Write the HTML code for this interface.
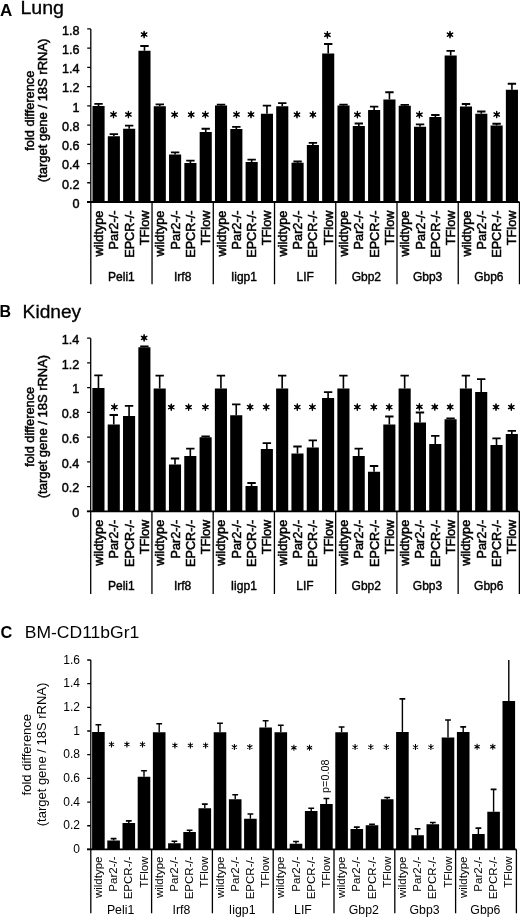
<!DOCTYPE html><html><head><meta charset="utf-8"><style>html,body{margin:0;padding:0;background:#fff;width:520px;height:918px;overflow:hidden}svg{display:block;will-change:transform}text{font-family:"Liberation Sans",sans-serif;fill:#000}</style></head><body>
<svg width="520" height="918" viewBox="0 0 520 918">
<text x="0" y="16.2" font-size="17" font-weight="bold">A</text>
<text x="20.4" y="13.8" font-size="18" stroke="#000" stroke-width="0.3" textLength="43.6" lengthAdjust="spacingAndGlyphs">Lung</text>
<text x="-0.5" y="317" font-size="16" font-weight="bold">B</text>
<text x="22.6" y="318.2" font-size="18.4" stroke="#000" stroke-width="0.3" textLength="58.6" lengthAdjust="spacingAndGlyphs">Kidney</text>
<text x="0.4" y="638.2" font-size="16.3" font-weight="bold">C</text>
<text x="24.8" y="638" font-size="16" textLength="114.4" lengthAdjust="spacingAndGlyphs">BM-CD11bGr1</text>
<text transform="translate(33.6 110.75) rotate(-90)" text-anchor="middle" font-size="12.8" font-weight="normal" stroke="#000" stroke-width="0.5" textLength="80" lengthAdjust="spacingAndGlyphs">fold difference</text><text transform="translate(47.2 110.4) rotate(-90)" text-anchor="middle" font-size="12.8" font-weight="normal" stroke="#000" stroke-width="0.5" textLength="143.7" lengthAdjust="spacingAndGlyphs">(target gene / 18S rRNA)</text>
<text transform="translate(33.6 426.85) rotate(-90)" text-anchor="middle" font-size="12.8" font-weight="normal" stroke="#000" stroke-width="0.5" textLength="80" lengthAdjust="spacingAndGlyphs">fold difference</text><text transform="translate(47.2 426.55) rotate(-90)" text-anchor="middle" font-size="12.8" font-weight="normal" stroke="#000" stroke-width="0.5" textLength="143.4" lengthAdjust="spacingAndGlyphs">(target gene / 18S rRNA)</text>
<text transform="translate(31.2 754.65) rotate(-90)" text-anchor="middle" font-size="12.8" font-weight="normal" textLength="81.5" lengthAdjust="spacingAndGlyphs">fold difference</text><text transform="translate(45.6 754.45) rotate(-90)" text-anchor="middle" font-size="12.8" font-weight="normal" textLength="143.6" lengthAdjust="spacingAndGlyphs">(target gene / 18S rRNA)</text>
<path d="M90.8 28.9V284.3" stroke="#000" stroke-width="1.3" fill="none"/>
<path d="M87 202H519.48" stroke="#000" stroke-width="1.8" fill="none"/>
<path d="M87.2 202H90.8M87.2 182.77H90.8M87.2 163.53H90.8M87.2 144.3H90.8M87.2 125.07H90.8M87.2 105.83H90.8M87.2 86.6H90.8M87.2 67.37H90.8M87.2 48.13H90.8M87.2 28.9H90.8" stroke="#000" stroke-width="1.3" fill="none"/>
<text x="79.4" y="207.8" text-anchor="end" font-size="12.6" font-weight="normal" stroke="#000" stroke-width="0.45">0</text>
<text x="79.4" y="188.57" text-anchor="end" font-size="12.6" font-weight="normal" stroke="#000" stroke-width="0.45">0.2</text>
<text x="79.4" y="169.33" text-anchor="end" font-size="12.6" font-weight="normal" stroke="#000" stroke-width="0.45">0.4</text>
<text x="79.4" y="150.1" text-anchor="end" font-size="12.6" font-weight="normal" stroke="#000" stroke-width="0.45">0.6</text>
<text x="79.4" y="130.87" text-anchor="end" font-size="12.6" font-weight="normal" stroke="#000" stroke-width="0.45">0.8</text>
<text x="79.4" y="111.63" text-anchor="end" font-size="12.6" font-weight="normal" stroke="#000" stroke-width="0.45">1</text>
<text x="79.4" y="92.4" text-anchor="end" font-size="12.6" font-weight="normal" stroke="#000" stroke-width="0.45">1.2</text>
<text x="79.4" y="73.17" text-anchor="end" font-size="12.6" font-weight="normal" stroke="#000" stroke-width="0.45">1.4</text>
<text x="79.4" y="53.93" text-anchor="end" font-size="12.6" font-weight="normal" stroke="#000" stroke-width="0.45">1.6</text>
<text x="79.4" y="34.7" text-anchor="end" font-size="12.6" font-weight="normal" stroke="#000" stroke-width="0.45">1.8</text>
<path d="M152.04 202V284.3M213.28 202V284.3M274.52 202V284.3M335.76 202V284.3M397 202V284.3M458.24 202V284.3M519.48 202V284.3" stroke="#000" stroke-width="1.3" fill="none"/>
<path d="M92.5 202H104.6V106H92.5ZM107.81 202H119.91V136.2H107.81ZM123.12 202H135.22V128.8H123.12ZM138.43 202H150.53V50.8H138.43ZM153.74 202H165.84V106.25H153.74ZM169.05 202H181.15V154.4H169.05ZM184.36 202H196.46V162.9H184.36ZM199.67 202H211.77V131.9H199.67ZM214.98 202H227.08V105.6H214.98ZM230.29 202H242.39V129H230.29ZM245.6 202H257.7V161.9H245.6ZM260.91 202H273.01V113.75H260.91ZM276.22 202H288.32V106.3H276.22ZM291.53 202H303.63V162.7H291.53ZM306.84 202H318.94V145.1H306.84ZM322.15 202H334.25V53.6H322.15ZM337.46 202H349.56V105.6H337.46ZM352.77 202H364.87V125.9H352.77ZM368.08 202H380.18V110H368.08ZM383.39 202H395.49V99.4H383.39ZM398.7 202H410.8V105.8H398.7ZM414.01 202H426.11V126.7H414.01ZM429.32 202H441.42V116.9H429.32ZM444.63 202H456.73V55.5H444.63ZM459.94 202H472.04V106.5H459.94ZM475.25 202H487.35V113.75H475.25ZM490.56 202H502.66V125.6H490.56ZM505.87 202H517.97V89.75H505.87Z" fill="#000"/>
<path d="M98.55 106V103.9M113.86 136.2V134.2M129.17 128.8V125.7M144.48 50.8V46M159.79 106.25V104.4M175.1 154.4V152.3M190.41 162.9V160.6M205.72 131.9V128.75M221.03 105.6V104.7M236.34 129V126.9M251.65 161.9V159.6M266.96 113.75V105.6M282.27 106.3V103.2M297.58 162.7V161.5M312.89 145.1V142.9M328.2 53.6V44M343.51 105.6V104.7M358.82 125.9V123.5M374.13 110V106.6M389.44 99.4V92.25M404.75 105.8V104.9M420.06 126.7V124.4M435.37 116.9V115M450.68 55.5V50.9M465.99 106.5V104M481.3 113.75V111.5M496.61 125.6V123.75M511.92 89.75V83.75" stroke="#000" stroke-width="1.6" fill="none"/>
<path d="M94.35 103.9H102.75M109.66 134.2H118.06M124.97 125.7H133.37M140.28 46H148.68M155.59 104.4H163.99M170.9 152.3H179.3M186.21 160.6H194.61M201.52 128.75H209.92M216.83 104.7H225.23M232.14 126.9H240.54M247.45 159.6H255.85M262.76 105.6H271.16M278.07 103.2H286.47M293.38 161.5H301.78M308.69 142.9H317.09M324 44H332.4M339.31 104.7H347.71M354.62 123.5H363.02M369.93 106.6H378.33M385.24 92.25H393.64M400.55 104.9H408.95M415.86 124.4H424.26M431.17 115H439.57M446.48 50.9H454.88M461.79 104H470.19M477.1 111.5H485.5M492.41 123.75H500.81M507.72 83.75H516.12" stroke="#000" stroke-width="1.8" fill="none"/>
<path d="M113.5 111.35L113.5 117.65M110.77 112.92L116.23 116.08M116.23 112.92L110.77 116.08" stroke="#000" stroke-width="1.35" stroke-linecap="round" fill="none"/><polygon points="113.5,110.9 112.72,113.16 110.38,112.7 111.95,114.5 110.38,116.3 112.72,115.84 113.5,118.1 114.28,115.84 116.62,116.3 115.05,114.5 116.62,112.7 114.28,113.16" fill="#000"/>
<path d="M128.4 111.35L128.4 117.65M125.67 112.92L131.13 116.08M131.13 112.92L125.67 116.08" stroke="#000" stroke-width="1.35" stroke-linecap="round" fill="none"/><polygon points="128.4,110.9 127.62,113.16 125.28,112.7 126.85,114.5 125.28,116.3 127.62,115.84 128.4,118.1 129.18,115.84 131.52,116.3 129.95,114.5 131.52,112.7 129.18,113.16" fill="#000"/>
<path d="M144.1 31.35L144.1 37.65M141.37 32.92L146.83 36.08M146.83 32.92L141.37 36.08" stroke="#000" stroke-width="1.35" stroke-linecap="round" fill="none"/><polygon points="144.1,30.9 143.32,33.16 140.98,32.7 142.55,34.5 140.98,36.3 143.32,35.84 144.1,38.1 144.88,35.84 147.22,36.3 145.65,34.5 147.22,32.7 144.88,33.16" fill="#000"/>
<path d="M174.6 111.5L174.6 117.8M171.87 113.08L177.33 116.23M177.33 113.08L171.87 116.23" stroke="#000" stroke-width="1.35" stroke-linecap="round" fill="none"/><polygon points="174.6,111.05 173.82,113.31 171.48,112.85 173.05,114.65 171.48,116.45 173.82,115.99 174.6,118.25 175.38,115.99 177.72,116.45 176.15,114.65 177.72,112.85 175.38,113.31" fill="#000"/>
<path d="M191.2 111.5L191.2 117.8M188.47 113.08L193.93 116.23M193.93 113.08L188.47 116.23" stroke="#000" stroke-width="1.35" stroke-linecap="round" fill="none"/><polygon points="191.2,111.05 190.42,113.31 188.08,112.85 189.65,114.65 188.08,116.45 190.42,115.99 191.2,118.25 191.97,115.99 194.32,116.45 192.75,114.65 194.32,112.85 191.97,113.31" fill="#000"/>
<path d="M205.4 111.5L205.4 117.8M202.67 113.08L208.13 116.23M208.13 113.08L202.67 116.23" stroke="#000" stroke-width="1.35" stroke-linecap="round" fill="none"/><polygon points="205.4,111.05 204.62,113.31 202.28,112.85 203.85,114.65 202.28,116.45 204.62,115.99 205.4,118.25 206.18,115.99 208.52,116.45 206.95,114.65 208.52,112.85 206.18,113.31" fill="#000"/>
<path d="M236.5 111.35L236.5 117.65M233.77 112.92L239.23 116.08M239.23 112.92L233.77 116.08" stroke="#000" stroke-width="1.35" stroke-linecap="round" fill="none"/><polygon points="236.5,110.9 235.72,113.16 233.38,112.7 234.95,114.5 233.38,116.3 235.72,115.84 236.5,118.1 237.28,115.84 239.62,116.3 238.05,114.5 239.62,112.7 237.28,113.16" fill="#000"/>
<path d="M251 111.35L251 117.65M248.27 112.92L253.73 116.08M253.73 112.92L248.27 116.08" stroke="#000" stroke-width="1.35" stroke-linecap="round" fill="none"/><polygon points="251,110.9 250.22,113.16 247.88,112.7 249.45,114.5 247.88,116.3 250.22,115.84 251,118.1 251.78,115.84 254.12,116.3 252.55,114.5 254.12,112.7 251.78,113.16" fill="#000"/>
<path d="M297 111.5L297 117.8M294.27 113.08L299.73 116.23M299.73 113.08L294.27 116.23" stroke="#000" stroke-width="1.35" stroke-linecap="round" fill="none"/><polygon points="297,111.05 296.23,113.31 293.88,112.85 295.45,114.65 293.88,116.45 296.23,115.99 297,118.25 297.77,115.99 300.12,116.45 298.55,114.65 300.12,112.85 297.77,113.31" fill="#000"/>
<path d="M312.9 111.5L312.9 117.8M310.17 113.08L315.63 116.23M315.63 113.08L310.17 116.23" stroke="#000" stroke-width="1.35" stroke-linecap="round" fill="none"/><polygon points="312.9,111.05 312.12,113.31 309.78,112.85 311.35,114.65 309.78,116.45 312.12,115.99 312.9,118.25 313.67,115.99 316.02,116.45 314.45,114.65 316.02,112.85 313.67,113.31" fill="#000"/>
<path d="M327.4 31.7L327.4 38M324.67 33.27L330.13 36.43M330.13 33.27L324.67 36.43" stroke="#000" stroke-width="1.35" stroke-linecap="round" fill="none"/><polygon points="327.4,31.25 326.62,33.51 324.28,33.05 325.85,34.85 324.28,36.65 326.62,36.19 327.4,38.45 328.17,36.19 330.52,36.65 328.95,34.85 330.52,33.05 328.17,33.51" fill="#000"/>
<path d="M357.4 111.5L357.4 117.8M354.67 113.08L360.13 116.23M360.13 113.08L354.67 116.23" stroke="#000" stroke-width="1.35" stroke-linecap="round" fill="none"/><polygon points="357.4,111.05 356.62,113.31 354.28,112.85 355.85,114.65 354.28,116.45 356.62,115.99 357.4,118.25 358.17,115.99 360.52,116.45 358.95,114.65 360.52,112.85 358.17,113.31" fill="#000"/>
<path d="M419.4 111.5L419.4 117.8M416.67 113.08L422.13 116.23M422.13 113.08L416.67 116.23" stroke="#000" stroke-width="1.35" stroke-linecap="round" fill="none"/><polygon points="419.4,111.05 418.62,113.31 416.28,112.85 417.85,114.65 416.28,116.45 418.62,115.99 419.4,118.25 420.17,115.99 422.52,116.45 420.95,114.65 422.52,112.85 420.17,113.31" fill="#000"/>
<path d="M450 31.5L450 37.8M447.27 33.07L452.73 36.23M452.73 33.07L447.27 36.23" stroke="#000" stroke-width="1.35" stroke-linecap="round" fill="none"/><polygon points="450,31.05 449.23,33.31 446.88,32.85 448.45,34.65 446.88,36.45 449.23,35.99 450,38.25 450.77,35.99 453.12,36.45 451.55,34.65 453.12,32.85 450.77,33.31" fill="#000"/>
<path d="M496.7 111.35L496.7 117.65M493.97 112.92L499.43 116.08M499.43 112.92L493.97 116.08" stroke="#000" stroke-width="1.35" stroke-linecap="round" fill="none"/><polygon points="496.7,110.9 495.93,113.16 493.58,112.7 495.15,114.5 493.58,116.3 495.93,115.84 496.7,118.1 497.47,115.84 499.82,116.3 498.25,114.5 499.82,112.7 497.47,113.16" fill="#000"/>
<text transform="translate(103.05 210.6) rotate(-90)" text-anchor="end" font-size="12.7" font-weight="normal" stroke="#000" stroke-width="0.5">wildtype</text>
<text transform="translate(118.36 210.6) rotate(-90)" text-anchor="end" font-size="12.7" font-weight="normal" stroke="#000" stroke-width="0.5">Par2-/-</text>
<text transform="translate(133.67 210.6) rotate(-90)" text-anchor="end" font-size="12.7" font-weight="normal" stroke="#000" stroke-width="0.5">EPCR-/-</text>
<text transform="translate(148.98 210.6) rotate(-90)" text-anchor="end" font-size="12.7" font-weight="normal" stroke="#000" stroke-width="0.5">TFlow</text>
<text transform="translate(164.29 210.6) rotate(-90)" text-anchor="end" font-size="12.7" font-weight="normal" stroke="#000" stroke-width="0.5">wildtype</text>
<text transform="translate(179.6 210.6) rotate(-90)" text-anchor="end" font-size="12.7" font-weight="normal" stroke="#000" stroke-width="0.5">Par2-/-</text>
<text transform="translate(194.91 210.6) rotate(-90)" text-anchor="end" font-size="12.7" font-weight="normal" stroke="#000" stroke-width="0.5">EPCR-/-</text>
<text transform="translate(210.22 210.6) rotate(-90)" text-anchor="end" font-size="12.7" font-weight="normal" stroke="#000" stroke-width="0.5">TFlow</text>
<text transform="translate(225.53 210.6) rotate(-90)" text-anchor="end" font-size="12.7" font-weight="normal" stroke="#000" stroke-width="0.5">wildtype</text>
<text transform="translate(240.84 210.6) rotate(-90)" text-anchor="end" font-size="12.7" font-weight="normal" stroke="#000" stroke-width="0.5">Par2-/-</text>
<text transform="translate(256.16 210.6) rotate(-90)" text-anchor="end" font-size="12.7" font-weight="normal" stroke="#000" stroke-width="0.5">EPCR-/-</text>
<text transform="translate(271.47 210.6) rotate(-90)" text-anchor="end" font-size="12.7" font-weight="normal" stroke="#000" stroke-width="0.5">TFlow</text>
<text transform="translate(286.78 210.6) rotate(-90)" text-anchor="end" font-size="12.7" font-weight="normal" stroke="#000" stroke-width="0.5">wildtype</text>
<text transform="translate(302.09 210.6) rotate(-90)" text-anchor="end" font-size="12.7" font-weight="normal" stroke="#000" stroke-width="0.5">Par2-/-</text>
<text transform="translate(317.4 210.6) rotate(-90)" text-anchor="end" font-size="12.7" font-weight="normal" stroke="#000" stroke-width="0.5">EPCR-/-</text>
<text transform="translate(332.71 210.6) rotate(-90)" text-anchor="end" font-size="12.7" font-weight="normal" stroke="#000" stroke-width="0.5">TFlow</text>
<text transform="translate(348.02 210.6) rotate(-90)" text-anchor="end" font-size="12.7" font-weight="normal" stroke="#000" stroke-width="0.5">wildtype</text>
<text transform="translate(363.33 210.6) rotate(-90)" text-anchor="end" font-size="12.7" font-weight="normal" stroke="#000" stroke-width="0.5">Par2-/-</text>
<text transform="translate(378.64 210.6) rotate(-90)" text-anchor="end" font-size="12.7" font-weight="normal" stroke="#000" stroke-width="0.5">EPCR-/-</text>
<text transform="translate(393.95 210.6) rotate(-90)" text-anchor="end" font-size="12.7" font-weight="normal" stroke="#000" stroke-width="0.5">TFlow</text>
<text transform="translate(409.26 210.6) rotate(-90)" text-anchor="end" font-size="12.7" font-weight="normal" stroke="#000" stroke-width="0.5">wildtype</text>
<text transform="translate(424.57 210.6) rotate(-90)" text-anchor="end" font-size="12.7" font-weight="normal" stroke="#000" stroke-width="0.5">Par2-/-</text>
<text transform="translate(439.88 210.6) rotate(-90)" text-anchor="end" font-size="12.7" font-weight="normal" stroke="#000" stroke-width="0.5">EPCR-/-</text>
<text transform="translate(455.19 210.6) rotate(-90)" text-anchor="end" font-size="12.7" font-weight="normal" stroke="#000" stroke-width="0.5">TFlow</text>
<text transform="translate(470.5 210.6) rotate(-90)" text-anchor="end" font-size="12.7" font-weight="normal" stroke="#000" stroke-width="0.5">wildtype</text>
<text transform="translate(485.81 210.6) rotate(-90)" text-anchor="end" font-size="12.7" font-weight="normal" stroke="#000" stroke-width="0.5">Par2-/-</text>
<text transform="translate(501.12 210.6) rotate(-90)" text-anchor="end" font-size="12.7" font-weight="normal" stroke="#000" stroke-width="0.5">EPCR-/-</text>
<text transform="translate(516.43 210.6) rotate(-90)" text-anchor="end" font-size="12.7" font-weight="normal" stroke="#000" stroke-width="0.5">TFlow</text>
<text x="121.42" y="281.2" text-anchor="middle" font-size="12" font-weight="normal" stroke="#000" stroke-width="0.4">Peli1</text>
<text x="182.66" y="281.2" text-anchor="middle" font-size="12" font-weight="normal" stroke="#000" stroke-width="0.4">Irf8</text>
<text x="243.9" y="281.2" text-anchor="middle" font-size="12" font-weight="normal" stroke="#000" stroke-width="0.4">Iigp1</text>
<text x="305.14" y="281.2" text-anchor="middle" font-size="12" font-weight="normal" stroke="#000" stroke-width="0.4">LIF</text>
<text x="366.38" y="281.2" text-anchor="middle" font-size="12" font-weight="normal" stroke="#000" stroke-width="0.4">Gbp2</text>
<text x="427.62" y="281.2" text-anchor="middle" font-size="12" font-weight="normal" stroke="#000" stroke-width="0.4">Gbp3</text>
<text x="488.86" y="281.2" text-anchor="middle" font-size="12" font-weight="normal" stroke="#000" stroke-width="0.4">Gbp6</text>
<path d="M90.7 338.2V593.9" stroke="#000" stroke-width="1.3" fill="none"/>
<path d="M86.9 511.3H519.38" stroke="#000" stroke-width="1.8" fill="none"/>
<path d="M87.1 511.3H90.7M87.1 486.57H90.7M87.1 461.84H90.7M87.1 437.11H90.7M87.1 412.39H90.7M87.1 387.66H90.7M87.1 362.93H90.7M87.1 338.2H90.7" stroke="#000" stroke-width="1.3" fill="none"/>
<text x="79.2" y="517.1" text-anchor="end" font-size="12.6" font-weight="normal" stroke="#000" stroke-width="0.45">0</text>
<text x="79.2" y="492.37" text-anchor="end" font-size="12.6" font-weight="normal" stroke="#000" stroke-width="0.45">0.2</text>
<text x="79.2" y="467.64" text-anchor="end" font-size="12.6" font-weight="normal" stroke="#000" stroke-width="0.45">0.4</text>
<text x="79.2" y="442.91" text-anchor="end" font-size="12.6" font-weight="normal" stroke="#000" stroke-width="0.45">0.6</text>
<text x="79.2" y="418.19" text-anchor="end" font-size="12.6" font-weight="normal" stroke="#000" stroke-width="0.45">0.8</text>
<text x="79.2" y="393.46" text-anchor="end" font-size="12.6" font-weight="normal" stroke="#000" stroke-width="0.45">1</text>
<text x="79.2" y="368.73" text-anchor="end" font-size="12.6" font-weight="normal" stroke="#000" stroke-width="0.45">1.2</text>
<text x="79.2" y="344" text-anchor="end" font-size="12.6" font-weight="normal" stroke="#000" stroke-width="0.45">1.4</text>
<path d="M151.94 511.3V593.9M213.18 511.3V593.9M274.42 511.3V593.9M335.66 511.3V593.9M396.9 511.3V593.9M458.14 511.3V593.9M519.38 511.3V593.9" stroke="#000" stroke-width="1.3" fill="none"/>
<path d="M92.4 511.3H104.5V388H92.4ZM107.71 511.3H119.81V424.6H107.71ZM123.02 511.3H135.12V416.1H123.02ZM138.33 511.3H150.43V347.2H138.33ZM153.64 511.3H165.74V388.4H153.64ZM168.95 511.3H181.05V464.5H168.95ZM184.26 511.3H196.36V456H184.26ZM199.57 511.3H211.67V437.3H199.57ZM214.88 511.3H226.98V388.4H214.88ZM230.19 511.3H242.29V415.3H230.19ZM245.5 511.3H257.6V486.1H245.5ZM260.81 511.3H272.91V448.9H260.81ZM276.12 511.3H288.22V388.4H276.12ZM291.43 511.3H303.53V453.6H291.43ZM306.74 511.3H318.84V447.6H306.74ZM322.05 511.3H334.15V398H322.05ZM337.36 511.3H349.46V388.4H337.36ZM352.67 511.3H364.77V456H352.67ZM367.98 511.3H380.08V471.7H367.98ZM383.29 511.3H395.39V424.5H383.29ZM398.6 511.3H410.7V388.4H398.6ZM413.91 511.3H426.01V422.4H413.91ZM429.22 511.3H441.32V443.9H429.22ZM444.53 511.3H456.63V419.3H444.53ZM459.84 511.3H471.94V388.4H459.84ZM475.15 511.3H487.25V392H475.15ZM490.46 511.3H502.56V445.1H490.46ZM505.77 511.3H517.87V434H505.77Z" fill="#000"/>
<path d="M98.45 388V375.3M113.76 424.6V415M129.07 416.1V405.8M144.38 347.2V346.3M159.69 388.4V375.7M175 464.5V458.5M190.31 456V448.6M205.62 437.3V436.4M220.93 388.4V375.7M236.24 415.3V404.3M251.55 486.1V483M266.86 448.9V443.2M282.17 388.4V375.7M297.48 453.6V446.5M312.79 447.6V440.4M328.1 398V392.2M343.41 388.4V375.7M358.72 456V448.6M374.03 471.7V466M389.34 424.5V416.5M404.65 388.4V375.7M419.96 422.4V412.5M435.27 443.9V435.9M450.58 419.3V418.4M465.89 388.4V375.7M481.2 392V379.2M496.51 445.1V438.3M511.82 434V430.9" stroke="#000" stroke-width="1.6" fill="none"/>
<path d="M94.25 375.3H102.65M109.56 415H117.96M124.87 405.8H133.27M140.18 346.3H148.58M155.49 375.7H163.89M170.8 458.5H179.2M186.11 448.6H194.51M201.42 436.4H209.82M216.73 375.7H225.13M232.04 404.3H240.44M247.35 483H255.75M262.66 443.2H271.06M277.97 375.7H286.37M293.28 446.5H301.68M308.59 440.4H316.99M323.9 392.2H332.3M339.21 375.7H347.61M354.52 448.6H362.92M369.83 466H378.23M385.14 416.5H393.54M400.45 375.7H408.85M415.76 412.5H424.16M431.07 435.9H439.47M446.38 418.4H454.78M461.69 375.7H470.09M477 379.2H485.4M492.31 438.3H500.71M507.62 430.9H516.02" stroke="#000" stroke-width="1.8" fill="none"/>
<path d="M114.4 403.95L114.4 410.25M111.67 405.53L117.13 408.68M117.13 405.53L111.67 408.68" stroke="#000" stroke-width="1.35" stroke-linecap="round" fill="none"/><polygon points="114.4,403.5 113.62,405.76 111.28,405.3 112.85,407.1 111.28,408.9 113.62,408.44 114.4,410.7 115.18,408.44 117.52,408.9 115.95,407.1 117.52,405.3 115.18,405.76" fill="#000"/>
<path d="M144.1 334.75L144.1 341.05M141.37 336.32L146.83 339.47M146.83 336.32L141.37 339.47" stroke="#000" stroke-width="1.35" stroke-linecap="round" fill="none"/><polygon points="144.1,334.3 143.32,336.56 140.98,336.1 142.55,337.9 140.98,339.7 143.32,339.24 144.1,341.5 144.88,339.24 147.22,339.7 145.65,337.9 147.22,336.1 144.88,336.56" fill="#000"/>
<path d="M171.25 404.05L171.25 410.35M168.52 405.62L173.98 408.77M173.98 405.62L168.52 408.77" stroke="#000" stroke-width="1.35" stroke-linecap="round" fill="none"/><polygon points="171.25,403.6 170.47,405.86 168.13,405.4 169.7,407.2 168.13,409 170.47,408.54 171.25,410.8 172.03,408.54 174.37,409 172.8,407.2 174.37,405.4 172.03,405.86" fill="#000"/>
<path d="M188.6 404.05L188.6 410.35M185.87 405.62L191.33 408.77M191.33 405.62L185.87 408.77" stroke="#000" stroke-width="1.35" stroke-linecap="round" fill="none"/><polygon points="188.6,403.6 187.82,405.86 185.48,405.4 187.05,407.2 185.48,409 187.82,408.54 188.6,410.8 189.38,408.54 191.72,409 190.15,407.2 191.72,405.4 189.38,405.86" fill="#000"/>
<path d="M205.4 404.05L205.4 410.35M202.67 405.62L208.13 408.77M208.13 405.62L202.67 408.77" stroke="#000" stroke-width="1.35" stroke-linecap="round" fill="none"/><polygon points="205.4,403.6 204.62,405.86 202.28,405.4 203.85,407.2 202.28,409 204.62,408.54 205.4,410.8 206.18,408.54 208.52,409 206.95,407.2 208.52,405.4 206.18,405.86" fill="#000"/>
<path d="M250.1 403.95L250.1 410.25M247.37 405.53L252.83 408.68M252.83 405.53L247.37 408.68" stroke="#000" stroke-width="1.35" stroke-linecap="round" fill="none"/><polygon points="250.1,403.5 249.32,405.76 246.98,405.3 248.55,407.1 246.98,408.9 249.32,408.44 250.1,410.7 250.88,408.44 253.22,408.9 251.65,407.1 253.22,405.3 250.88,405.76" fill="#000"/>
<path d="M266.2 403.95L266.2 410.25M263.47 405.53L268.93 408.68M268.93 405.53L263.47 408.68" stroke="#000" stroke-width="1.35" stroke-linecap="round" fill="none"/><polygon points="266.2,403.5 265.43,405.76 263.08,405.3 264.65,407.1 263.08,408.9 265.43,408.44 266.2,410.7 266.97,408.44 269.32,408.9 267.75,407.1 269.32,405.3 266.97,405.76" fill="#000"/>
<path d="M297.3 403.95L297.3 410.25M294.57 405.53L300.03 408.68M300.03 405.53L294.57 408.68" stroke="#000" stroke-width="1.35" stroke-linecap="round" fill="none"/><polygon points="297.3,403.5 296.53,405.76 294.18,405.3 295.75,407.1 294.18,408.9 296.53,408.44 297.3,410.7 298.07,408.44 300.42,408.9 298.85,407.1 300.42,405.3 298.07,405.76" fill="#000"/>
<path d="M312.4 403.95L312.4 410.25M309.67 405.53L315.13 408.68M315.13 405.53L309.67 408.68" stroke="#000" stroke-width="1.35" stroke-linecap="round" fill="none"/><polygon points="312.4,403.5 311.62,405.76 309.28,405.3 310.85,407.1 309.28,408.9 311.62,408.44 312.4,410.7 313.17,408.44 315.52,408.9 313.95,407.1 315.52,405.3 313.17,405.76" fill="#000"/>
<path d="M357.3 403.95L357.3 410.25M354.57 405.53L360.03 408.68M360.03 405.53L354.57 408.68" stroke="#000" stroke-width="1.35" stroke-linecap="round" fill="none"/><polygon points="357.3,403.5 356.53,405.76 354.18,405.3 355.75,407.1 354.18,408.9 356.53,408.44 357.3,410.7 358.07,408.44 360.42,408.9 358.85,407.1 360.42,405.3 358.07,405.76" fill="#000"/>
<path d="M373.8 403.95L373.8 410.25M371.07 405.53L376.53 408.68M376.53 405.53L371.07 408.68" stroke="#000" stroke-width="1.35" stroke-linecap="round" fill="none"/><polygon points="373.8,403.5 373.03,405.76 370.68,405.3 372.25,407.1 370.68,408.9 373.03,408.44 373.8,410.7 374.57,408.44 376.92,408.9 375.35,407.1 376.92,405.3 374.57,405.76" fill="#000"/>
<path d="M389.2 403.95L389.2 410.25M386.47 405.53L391.93 408.68M391.93 405.53L386.47 408.68" stroke="#000" stroke-width="1.35" stroke-linecap="round" fill="none"/><polygon points="389.2,403.5 388.43,405.76 386.08,405.3 387.65,407.1 386.08,408.9 388.43,408.44 389.2,410.7 389.97,408.44 392.32,408.9 390.75,407.1 392.32,405.3 389.97,405.76" fill="#000"/>
<path d="M419.4 403.65L419.4 409.95M416.67 405.23L422.13 408.38M422.13 405.23L416.67 408.38" stroke="#000" stroke-width="1.35" stroke-linecap="round" fill="none"/><polygon points="419.4,403.2 418.62,405.46 416.28,405 417.85,406.8 416.28,408.6 418.62,408.14 419.4,410.4 420.17,408.14 422.52,408.6 420.95,406.8 422.52,405 420.17,405.46" fill="#000"/>
<path d="M434.8 403.85L434.8 410.15M432.07 405.43L437.53 408.57M437.53 405.43L432.07 408.57" stroke="#000" stroke-width="1.35" stroke-linecap="round" fill="none"/><polygon points="434.8,403.4 434.03,405.66 431.68,405.2 433.25,407 431.68,408.8 434.03,408.34 434.8,410.6 435.57,408.34 437.92,408.8 436.35,407 437.92,405.2 435.57,405.66" fill="#000"/>
<path d="M450.2 403.85L450.2 410.15M447.47 405.43L452.93 408.57M452.93 405.43L447.47 408.57" stroke="#000" stroke-width="1.35" stroke-linecap="round" fill="none"/><polygon points="450.2,403.4 449.43,405.66 447.08,405.2 448.65,407 447.08,408.8 449.43,408.34 450.2,410.6 450.97,408.34 453.32,408.8 451.75,407 453.32,405.2 450.97,405.66" fill="#000"/>
<path d="M496 403.95L496 410.25M493.27 405.53L498.73 408.68M498.73 405.53L493.27 408.68" stroke="#000" stroke-width="1.35" stroke-linecap="round" fill="none"/><polygon points="496,403.5 495.23,405.76 492.88,405.3 494.45,407.1 492.88,408.9 495.23,408.44 496,410.7 496.77,408.44 499.12,408.9 497.55,407.1 499.12,405.3 496.77,405.76" fill="#000"/>
<path d="M511.3 403.95L511.3 410.25M508.57 405.53L514.03 408.68M514.03 405.53L508.57 408.68" stroke="#000" stroke-width="1.35" stroke-linecap="round" fill="none"/><polygon points="511.3,403.5 510.53,405.76 508.18,405.3 509.75,407.1 508.18,408.9 510.53,408.44 511.3,410.7 512.08,408.44 514.42,408.9 512.85,407.1 514.42,405.3 512.08,405.76" fill="#000"/>
<text transform="translate(102.95 519.8) rotate(-90)" text-anchor="end" font-size="12.7" font-weight="normal" stroke="#000" stroke-width="0.5">wildtype</text>
<text transform="translate(118.27 519.8) rotate(-90)" text-anchor="end" font-size="12.7" font-weight="normal" stroke="#000" stroke-width="0.5">Par2-/-</text>
<text transform="translate(133.57 519.8) rotate(-90)" text-anchor="end" font-size="12.7" font-weight="normal" stroke="#000" stroke-width="0.5">EPCR-/-</text>
<text transform="translate(148.88 519.8) rotate(-90)" text-anchor="end" font-size="12.7" font-weight="normal" stroke="#000" stroke-width="0.5">TFlow</text>
<text transform="translate(164.19 519.8) rotate(-90)" text-anchor="end" font-size="12.7" font-weight="normal" stroke="#000" stroke-width="0.5">wildtype</text>
<text transform="translate(179.5 519.8) rotate(-90)" text-anchor="end" font-size="12.7" font-weight="normal" stroke="#000" stroke-width="0.5">Par2-/-</text>
<text transform="translate(194.81 519.8) rotate(-90)" text-anchor="end" font-size="12.7" font-weight="normal" stroke="#000" stroke-width="0.5">EPCR-/-</text>
<text transform="translate(210.12 519.8) rotate(-90)" text-anchor="end" font-size="12.7" font-weight="normal" stroke="#000" stroke-width="0.5">TFlow</text>
<text transform="translate(225.43 519.8) rotate(-90)" text-anchor="end" font-size="12.7" font-weight="normal" stroke="#000" stroke-width="0.5">wildtype</text>
<text transform="translate(240.74 519.8) rotate(-90)" text-anchor="end" font-size="12.7" font-weight="normal" stroke="#000" stroke-width="0.5">Par2-/-</text>
<text transform="translate(256.06 519.8) rotate(-90)" text-anchor="end" font-size="12.7" font-weight="normal" stroke="#000" stroke-width="0.5">EPCR-/-</text>
<text transform="translate(271.37 519.8) rotate(-90)" text-anchor="end" font-size="12.7" font-weight="normal" stroke="#000" stroke-width="0.5">TFlow</text>
<text transform="translate(286.68 519.8) rotate(-90)" text-anchor="end" font-size="12.7" font-weight="normal" stroke="#000" stroke-width="0.5">wildtype</text>
<text transform="translate(301.99 519.8) rotate(-90)" text-anchor="end" font-size="12.7" font-weight="normal" stroke="#000" stroke-width="0.5">Par2-/-</text>
<text transform="translate(317.3 519.8) rotate(-90)" text-anchor="end" font-size="12.7" font-weight="normal" stroke="#000" stroke-width="0.5">EPCR-/-</text>
<text transform="translate(332.61 519.8) rotate(-90)" text-anchor="end" font-size="12.7" font-weight="normal" stroke="#000" stroke-width="0.5">TFlow</text>
<text transform="translate(347.92 519.8) rotate(-90)" text-anchor="end" font-size="12.7" font-weight="normal" stroke="#000" stroke-width="0.5">wildtype</text>
<text transform="translate(363.23 519.8) rotate(-90)" text-anchor="end" font-size="12.7" font-weight="normal" stroke="#000" stroke-width="0.5">Par2-/-</text>
<text transform="translate(378.54 519.8) rotate(-90)" text-anchor="end" font-size="12.7" font-weight="normal" stroke="#000" stroke-width="0.5">EPCR-/-</text>
<text transform="translate(393.85 519.8) rotate(-90)" text-anchor="end" font-size="12.7" font-weight="normal" stroke="#000" stroke-width="0.5">TFlow</text>
<text transform="translate(409.16 519.8) rotate(-90)" text-anchor="end" font-size="12.7" font-weight="normal" stroke="#000" stroke-width="0.5">wildtype</text>
<text transform="translate(424.47 519.8) rotate(-90)" text-anchor="end" font-size="12.7" font-weight="normal" stroke="#000" stroke-width="0.5">Par2-/-</text>
<text transform="translate(439.78 519.8) rotate(-90)" text-anchor="end" font-size="12.7" font-weight="normal" stroke="#000" stroke-width="0.5">EPCR-/-</text>
<text transform="translate(455.09 519.8) rotate(-90)" text-anchor="end" font-size="12.7" font-weight="normal" stroke="#000" stroke-width="0.5">TFlow</text>
<text transform="translate(470.4 519.8) rotate(-90)" text-anchor="end" font-size="12.7" font-weight="normal" stroke="#000" stroke-width="0.5">wildtype</text>
<text transform="translate(485.71 519.8) rotate(-90)" text-anchor="end" font-size="12.7" font-weight="normal" stroke="#000" stroke-width="0.5">Par2-/-</text>
<text transform="translate(501.02 519.8) rotate(-90)" text-anchor="end" font-size="12.7" font-weight="normal" stroke="#000" stroke-width="0.5">EPCR-/-</text>
<text transform="translate(516.33 519.8) rotate(-90)" text-anchor="end" font-size="12.7" font-weight="normal" stroke="#000" stroke-width="0.5">TFlow</text>
<text x="121.32" y="590.4" text-anchor="middle" font-size="12" font-weight="normal" stroke="#000" stroke-width="0.4">Peli1</text>
<text x="182.56" y="590.4" text-anchor="middle" font-size="12" font-weight="normal" stroke="#000" stroke-width="0.4">Irf8</text>
<text x="243.8" y="590.4" text-anchor="middle" font-size="12" font-weight="normal" stroke="#000" stroke-width="0.4">Iigp1</text>
<text x="305.04" y="590.4" text-anchor="middle" font-size="12" font-weight="normal" stroke="#000" stroke-width="0.4">LIF</text>
<text x="366.28" y="590.4" text-anchor="middle" font-size="12" font-weight="normal" stroke="#000" stroke-width="0.4">Gbp2</text>
<text x="427.52" y="590.4" text-anchor="middle" font-size="12" font-weight="normal" stroke="#000" stroke-width="0.4">Gbp3</text>
<text x="488.76" y="590.4" text-anchor="middle" font-size="12" font-weight="normal" stroke="#000" stroke-width="0.4">Gbp6</text>
<path d="M90.8 660V913.3" stroke="#000" stroke-width="1.3" fill="none"/>
<path d="M87 849.4H516.4" stroke="#000" stroke-width="1.8" fill="none"/>
<path d="M87.2 849.4H90.8M87.2 825.73H90.8M87.2 802.05H90.8M87.2 778.38H90.8M87.2 754.7H90.8M87.2 731.02H90.8M87.2 707.35H90.8M87.2 683.67H90.8M87.2 660H90.8" stroke="#000" stroke-width="1.3" fill="none"/>
<text x="80" y="852.9" text-anchor="end" font-size="12" font-weight="normal">0</text>
<text x="80" y="829.23" text-anchor="end" font-size="12" font-weight="normal">0.2</text>
<text x="80" y="805.55" text-anchor="end" font-size="12" font-weight="normal">0.4</text>
<text x="80" y="781.88" text-anchor="end" font-size="12" font-weight="normal">0.6</text>
<text x="80" y="758.2" text-anchor="end" font-size="12" font-weight="normal">0.8</text>
<text x="80" y="734.52" text-anchor="end" font-size="12" font-weight="normal">1</text>
<text x="80" y="710.85" text-anchor="end" font-size="12" font-weight="normal">1.2</text>
<text x="80" y="687.17" text-anchor="end" font-size="12" font-weight="normal">1.4</text>
<text x="80" y="663.5" text-anchor="end" font-size="12" font-weight="normal">1.6</text>
<path d="M151.6 849.4V913.3M212.4 849.4V913.3M273.2 849.4V913.3M334 849.4V913.3M394.8 849.4V913.3M455.6 849.4V913.3M516.4 849.4V913.3" stroke="#000" stroke-width="1.3" fill="none"/>
<path d="M92.1 849.4H104.7V731.9H92.1ZM107.3 849.4H119.9V840.5H107.3ZM122.5 849.4H135.1V822.9H122.5ZM137.7 849.4H150.3V776.8H137.7ZM152.9 849.4H165.5V732.2H152.9ZM168.1 849.4H180.7V843.3H168.1ZM183.3 849.4H195.9V832H183.3ZM198.5 849.4H211.1V808.2H198.5ZM213.7 849.4H226.3V732.2H213.7ZM228.9 849.4H241.5V799.2H228.9ZM244.1 849.4H256.7V818.8H244.1ZM259.3 849.4H271.9V727.5H259.3ZM274.5 849.4H287.1V732.2H274.5ZM289.7 849.4H302.3V843.8H289.7ZM304.9 849.4H317.5V811.1H304.9ZM320.1 849.4H332.7V804.1H320.1ZM335.3 849.4H347.9V732.2H335.3ZM350.5 849.4H363.1V829.1H350.5ZM365.7 849.4H378.3V825.3H365.7ZM380.9 849.4H393.5V799.2H380.9ZM396.1 849.4H408.7V732H396.1ZM411.3 849.4H423.9V835.2H411.3ZM426.5 849.4H439.1V824.2H426.5ZM441.7 849.4H454.3V737.6H441.7ZM456.9 849.4H469.5V732H456.9ZM472.1 849.4H484.7V833.9H472.1ZM487.3 849.4H499.9V811.8H487.3ZM502.5 849.4H515.1V701H502.5Z" fill="#000"/>
<path d="M98.4 731.9V724.8M113.6 840.5V838.6M128.8 822.9V820.9M144 776.8V770.8M159.2 732.2V723.7M174.4 843.3V841.3M189.6 832V830.2M204.8 808.2V804.1M220 732.2V723.2M235.2 799.2V794.8M250.4 818.8V814M265.6 727.5V720.8M280.8 732.2V725.3M296 843.8V841.5M311.2 811.1V808.2M326.4 804.1V798.5M341.6 732.2V727M356.8 829.1V827.1M372 825.3V824.2M387.2 799.2V797.5M402.4 732V698.9M417.6 835.2V828.7M432.8 824.2V822.5M448 737.6V720M463.2 732V726.9M478.4 833.9V828.1M493.6 811.8V789.4M508.8 701V660" stroke="#000" stroke-width="1.4" fill="none"/>
<path d="M95.5 724.8H101.3M110.7 838.6H116.5M125.9 820.9H131.7M141.1 770.8H146.9M156.3 723.7H162.1M171.5 841.3H177.3M186.7 830.2H192.5M201.9 804.1H207.7M217.1 723.2H222.9M232.3 794.8H238.1M247.5 814H253.3M262.7 720.8H268.5M277.9 725.3H283.7M293.1 841.5H298.9M308.3 808.2H314.1M323.5 798.5H329.3M338.7 727H344.5M353.9 827.1H359.7M369.1 824.2H374.9M384.3 797.5H390.1M399.5 698.9H405.3M414.7 828.7H420.5M429.9 822.5H435.7M445.1 720H450.9M460.3 726.9H466.1M475.5 828.1H481.3M490.7 789.4H496.5" stroke="#000" stroke-width="1.6" fill="none"/>
<path d="M111.5 741.4L111.5 747.4M108.9 742.9L114.1 745.9M114.1 742.9L108.9 745.9" stroke="#000" stroke-width="1.05" fill="none"/><circle cx="111.5" cy="744.4" r="0.9"/>
<path d="M126.9 741.4L126.9 747.4M124.3 742.9L129.5 745.9M129.5 742.9L124.3 745.9" stroke="#000" stroke-width="1.05" fill="none"/><circle cx="126.9" cy="744.4" r="0.9"/>
<path d="M142.5 741.4L142.5 747.4M139.9 742.9L145.1 745.9M145.1 742.9L139.9 745.9" stroke="#000" stroke-width="1.05" fill="none"/><circle cx="142.5" cy="744.4" r="0.9"/>
<path d="M174.9 742.4L174.9 748.4M172.3 743.9L177.5 746.9M177.5 743.9L172.3 746.9" stroke="#000" stroke-width="1.05" fill="none"/><circle cx="174.9" cy="745.4" r="0.9"/>
<path d="M190.4 742.4L190.4 748.4M187.8 743.9L193 746.9M193 743.9L187.8 746.9" stroke="#000" stroke-width="1.05" fill="none"/><circle cx="190.4" cy="745.4" r="0.9"/>
<path d="M205.6 742.4L205.6 748.4M203 743.9L208.2 746.9M208.2 743.9L203 746.9" stroke="#000" stroke-width="1.05" fill="none"/><circle cx="205.6" cy="745.4" r="0.9"/>
<path d="M234.4 744L234.4 750M231.8 745.5L237 748.5M237 745.5L231.8 748.5" stroke="#000" stroke-width="1.05" fill="none"/><circle cx="234.4" cy="747" r="0.9"/>
<path d="M249.8 744L249.8 750M247.2 745.5L252.4 748.5M252.4 745.5L247.2 748.5" stroke="#000" stroke-width="1.05" fill="none"/><circle cx="249.8" cy="747" r="0.9"/>
<path d="M293.9 744.8L293.9 750.8M291.3 746.3L296.5 749.3M296.5 746.3L291.3 749.3" stroke="#000" stroke-width="1.05" fill="none"/><circle cx="293.9" cy="747.8" r="0.9"/>
<path d="M309.5 744.8L309.5 750.8M306.9 746.3L312.1 749.3M312.1 746.3L306.9 749.3" stroke="#000" stroke-width="1.05" fill="none"/><circle cx="309.5" cy="747.8" r="0.9"/>
<path d="M355.1 744.1L355.1 750.1M352.5 745.6L357.7 748.6M357.7 745.6L352.5 748.6" stroke="#000" stroke-width="1.05" fill="none"/><circle cx="355.1" cy="747.1" r="0.9"/>
<path d="M370.8 744.1L370.8 750.1M368.2 745.6L373.4 748.6M373.4 745.6L368.2 748.6" stroke="#000" stroke-width="1.05" fill="none"/><circle cx="370.8" cy="747.1" r="0.9"/>
<path d="M386.3 744.1L386.3 750.1M383.7 745.6L388.9 748.6M388.9 745.6L383.7 748.6" stroke="#000" stroke-width="1.05" fill="none"/><circle cx="386.3" cy="747.1" r="0.9"/>
<path d="M415.5 744.1L415.5 750.1M412.9 745.6L418.1 748.6M418.1 745.6L412.9 748.6" stroke="#000" stroke-width="1.05" fill="none"/><circle cx="415.5" cy="747.1" r="0.9"/>
<path d="M430.9 744.1L430.9 750.1M428.3 745.6L433.5 748.6M433.5 745.6L428.3 748.6" stroke="#000" stroke-width="1.05" fill="none"/><circle cx="430.9" cy="747.1" r="0.9"/>
<path d="M477.1 743.7L477.1 749.7M474.5 745.2L479.7 748.2M479.7 745.2L474.5 748.2" stroke="#000" stroke-width="1.05" fill="none"/><circle cx="477.1" cy="746.7" r="0.9"/>
<path d="M492.8 743.7L492.8 749.7M490.2 745.2L495.4 748.2M495.4 745.2L490.2 748.2" stroke="#000" stroke-width="1.05" fill="none"/><circle cx="492.8" cy="746.7" r="0.9"/>
<text transform="translate(101.9 856.5) rotate(-90)" text-anchor="end" font-size="11.5" font-weight="normal">wildtype</text>
<text transform="translate(117.1 856.5) rotate(-90)" text-anchor="end" font-size="11.5" font-weight="normal">Par2-/-</text>
<text transform="translate(132.3 856.5) rotate(-90)" text-anchor="end" font-size="11.5" font-weight="normal">EPCR-/-</text>
<text transform="translate(147.5 856.5) rotate(-90)" text-anchor="end" font-size="11.5" font-weight="normal">TFlow</text>
<text transform="translate(162.7 856.5) rotate(-90)" text-anchor="end" font-size="11.5" font-weight="normal">wildtype</text>
<text transform="translate(177.9 856.5) rotate(-90)" text-anchor="end" font-size="11.5" font-weight="normal">Par2-/-</text>
<text transform="translate(193.1 856.5) rotate(-90)" text-anchor="end" font-size="11.5" font-weight="normal">EPCR-/-</text>
<text transform="translate(208.3 856.5) rotate(-90)" text-anchor="end" font-size="11.5" font-weight="normal">TFlow</text>
<text transform="translate(223.5 856.5) rotate(-90)" text-anchor="end" font-size="11.5" font-weight="normal">wildtype</text>
<text transform="translate(238.7 856.5) rotate(-90)" text-anchor="end" font-size="11.5" font-weight="normal">Par2-/-</text>
<text transform="translate(253.9 856.5) rotate(-90)" text-anchor="end" font-size="11.5" font-weight="normal">EPCR-/-</text>
<text transform="translate(269.1 856.5) rotate(-90)" text-anchor="end" font-size="11.5" font-weight="normal">TFlow</text>
<text transform="translate(284.3 856.5) rotate(-90)" text-anchor="end" font-size="11.5" font-weight="normal">wildtype</text>
<text transform="translate(299.5 856.5) rotate(-90)" text-anchor="end" font-size="11.5" font-weight="normal">Par2-/-</text>
<text transform="translate(314.7 856.5) rotate(-90)" text-anchor="end" font-size="11.5" font-weight="normal">EPCR-/-</text>
<text transform="translate(329.9 856.5) rotate(-90)" text-anchor="end" font-size="11.5" font-weight="normal">TFlow</text>
<text transform="translate(345.1 856.5) rotate(-90)" text-anchor="end" font-size="11.5" font-weight="normal">wildtype</text>
<text transform="translate(360.3 856.5) rotate(-90)" text-anchor="end" font-size="11.5" font-weight="normal">Par2-/-</text>
<text transform="translate(375.5 856.5) rotate(-90)" text-anchor="end" font-size="11.5" font-weight="normal">EPCR-/-</text>
<text transform="translate(390.7 856.5) rotate(-90)" text-anchor="end" font-size="11.5" font-weight="normal">TFlow</text>
<text transform="translate(405.9 856.5) rotate(-90)" text-anchor="end" font-size="11.5" font-weight="normal">wildtype</text>
<text transform="translate(421.1 856.5) rotate(-90)" text-anchor="end" font-size="11.5" font-weight="normal">Par2-/-</text>
<text transform="translate(436.3 856.5) rotate(-90)" text-anchor="end" font-size="11.5" font-weight="normal">EPCR-/-</text>
<text transform="translate(451.5 856.5) rotate(-90)" text-anchor="end" font-size="11.5" font-weight="normal">TFlow</text>
<text transform="translate(466.7 856.5) rotate(-90)" text-anchor="end" font-size="11.5" font-weight="normal">wildtype</text>
<text transform="translate(481.9 856.5) rotate(-90)" text-anchor="end" font-size="11.5" font-weight="normal">Par2-/-</text>
<text transform="translate(497.1 856.5) rotate(-90)" text-anchor="end" font-size="11.5" font-weight="normal">EPCR-/-</text>
<text transform="translate(512.3 856.5) rotate(-90)" text-anchor="end" font-size="11.5" font-weight="normal">TFlow</text>
<text x="120.6" y="914" text-anchor="middle" font-size="12.3" font-weight="normal">Peli1</text>
<text x="181.4" y="914" text-anchor="middle" font-size="12.3" font-weight="normal">Irf8</text>
<text x="242.2" y="914" text-anchor="middle" font-size="12.3" font-weight="normal">Iigp1</text>
<text x="303" y="914" text-anchor="middle" font-size="12.3" font-weight="normal">LIF</text>
<text x="363.8" y="914" text-anchor="middle" font-size="12.3" font-weight="normal">Gbp2</text>
<text x="424.6" y="914" text-anchor="middle" font-size="12.3" font-weight="normal">Gbp3</text>
<text x="485.4" y="914" text-anchor="middle" font-size="12.3" font-weight="normal">Gbp6</text>
<text transform="translate(328.6 759.6) rotate(-90)" text-anchor="end" font-size="10.8">p=0.08</text>
</svg></body></html>
